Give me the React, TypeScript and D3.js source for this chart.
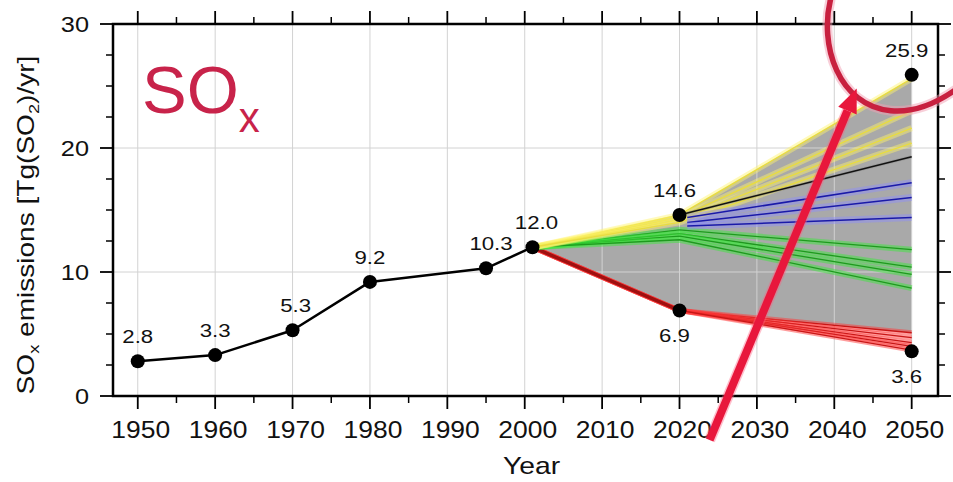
import React from "react";
import * as d3 from "d3";

// ---- data ----
const histYears = [1950, 1960, 1970, 1980, 1995, 2001];
const histValues = [2.8, 3.3, 5.3, 9.2, 10.3, 12.0];

const pointYears = [1950, 1960, 1970, 1980, 1995, 2001, 2020, 2050, 2020, 2050];
const pointValues = [2.8, 3.3, 5.3, 9.2, 10.3, 12.0, 14.6, 25.9, 6.9, 3.6];
const pointLabels = ["2.8", "3.3", "5.3", "9.2", "10.3", "12.0", "14.6", "25.9", "6.9", "3.6"];
const pointLabelSide = ["above", "above", "above", "above", "above", "above", "above", "above", "below", "below"];

const scenarioYears = [2001, 2020, 2050];
const envelopeUpper = [12.0, 14.6, 25.6];
const envelopeLower = [12.0, 6.9, 5.1];
const yellowScenarios = [
  [12.0, 14.6, 25.6],
  [12.0, 14.4, 23.0],
  [12.0, 14.2, 21.6],
  [12.0, 14.0, 20.4],
];
const blackYears = [2020, 2050];
const blackScenario = [14.6, 19.3];
const blueYears = [2021, 2050];
const blueScenarios = [
  [14.4, 17.2],
  [14.0, 16.0],
  [13.7, 14.4],
];
const greenScenarios = [
  [12.0, 13.4, 11.8],
  [12.0, 13.1, 10.4],
  [12.0, 12.9, 9.8],
  [12.0, 12.6, 8.7],
];
const redScenarios = [
  [12.0, 6.9, 5.1],
  [12.0, 6.9, 4.7],
  [12.0, 6.9, 4.3],
  [12.0, 6.9, 4.0],
  [12.0, 6.9, 3.7],
];

const xTickYears = [1950, 1960, 1970, 1980, 1990, 2000, 2010, 2020, 2030, 2040, 2050];
const xMinorYears = [1955, 1965, 1975, 1985, 1995, 2005, 2015, 2025, 2035, 2045];
const yTickValues = [0, 10, 20, 30];
const yMinorValues = [2.5, 5, 7.5, 12.5, 15, 17.5, 22.5, 25, 27.5];

// hand-drawn annotation (in data units)
const arrowStart = [2023.9, -3.55];
const arrowEnd = [2042.9, 24.8];
const circlePts = [
  [2039.6, 32.2],
  [2037.9, 28.3],
  [2040.6, 23.4],
  [2047.3, 23.0],
  [2050.7, 22.8],
  [2053.7, 23.8],
  [2056.0, 24.84],
];

const FONT = "'Liberation Sans', Arial, Helvetica, sans-serif";

export default function App() {
  const W = 953;
  const H = 482;
  const x = d3.scaleLinear().domain([1946.8, 2053.4]).range([113, 938]);
  const y = d3.scaleLinear().domain([0, 30]).range([396, 24]);
  const [fx0, fx1] = x.range();
  const [fy0, fy1] = [y(30), y(0)];

  const line = d3
    .line<number[]>()
    .x((d) => x(d[0]))
    .y((d) => y(d[1]));

  const pairs = (ys: number[], vs: number[]) => ys.map((yr, i) => [yr, vs[i]]);

  const envelope = pairs(scenarioYears, envelopeUpper).concat(pairs(scenarioYears, envelopeLower).reverse());
  const envPath = line(envelope) + "Z";

  const scenarioLine = (
    vals: number[],
    core: string,
    halo: string,
    coreW: number,
    haloW: number,
    haloOp: number,
    key: string,
    yrs = scenarioYears
  ) => (
    <g key={key}>
      <path d={line(pairs(yrs, vals)) || ""} fill="none" stroke={halo} strokeWidth={haloW} strokeOpacity={haloOp} strokeLinejoin="round" />
      <path d={line(pairs(yrs, vals)) || ""} fill="none" stroke={core} strokeWidth={coreW} strokeLinejoin="round" />
    </g>
  );

  const arrowAngle = Math.atan2(y(arrowEnd[1]) - y(arrowStart[1]), x(arrowEnd[0]) - x(arrowStart[0]));
  const tipX = x(arrowEnd[0]);
  const tipY = y(arrowEnd[1]);
  const headLen = 24;
  const headHalf = 10;
  const bx = tipX - headLen * Math.cos(arrowAngle);
  const by = tipY - headLen * Math.sin(arrowAngle);
  const px = -Math.sin(arrowAngle);
  const py = Math.cos(arrowAngle);
  const headPath = `M${tipX},${tipY}L${bx + px * headHalf},${by + py * headHalf}L${bx - px * headHalf},${by - py * headHalf}Z`;

  const cp = circlePts.map((p) => [x(p[0]), y(p[1])]);
  const circlePath = `M${cp[0][0]},${cp[0][1]} C${cp[1][0]},${cp[1][1]} ${cp[2][0]},${cp[2][1]} ${cp[3][0]},${cp[3][1]} C${cp[4][0]},${cp[4][1]} ${cp[5][0]},${cp[5][1]} ${cp[6][0]},${cp[6][1]}`;

  return (
    <svg width={W} height={H} style={{ position: "absolute", left: 0, top: 0, background: "#fff" }} fontFamily={FONT}>
      <rect width={W} height={H} fill="#fff" />

      {/* envelope fill */}
      <path d={envPath} fill="#a9a9a9" />

      {/* grid */}
      {xTickYears.map((yr) => (
        <line key={"gx" + yr} x1={x(yr)} x2={x(yr)} y1={fy0} y2={fy1} stroke="#d2d2d2" strokeWidth={1} />
      ))}
      {[10, 20].map((v) => (
        <line key={"gy" + v} x1={fx0} x2={fx1} y1={y(v)} y2={y(v)} stroke="#d2d2d2" strokeWidth={1} />
      ))}

      {/* scenarios */}
      {redScenarios.map((s, i) => scenarioLine(s, "#c81616", "#ff3a3a", 1.3, 5, 0.5, "r" + i))}
      <path d={line(pairs(scenarioYears.slice(0, 2), redScenarios[0].slice(0, 2))) || ""} fill="none" stroke="#a01010" strokeWidth={3.5} />
      {greenScenarios.map((s, i) => scenarioLine(s, "#1e9a1e", "#3ee83e", 1.3, 6, 0.5, "g" + i))}
      {yellowScenarios.map((s, i) => scenarioLine(s, "#e8dc40", "#fff36a", 1.4, 6, 0.45, "y" + i))}
      {blueScenarios.map((s, i) => scenarioLine(s, "#1a1aa8", "#8c8cff", 1.5, 7, 0.45, "b" + i, blueYears))}
      {scenarioLine(blackScenario, "#111", "#777", 1.5, 3, 0.3, "k", blackYears)}

      {/* history */}
      <path d={line(pairs(histYears, histValues)) || ""} fill="none" stroke="#000" strokeWidth={2.5} strokeLinejoin="round" />

      {/* dots & labels */}
      {pointYears.map((yr, i) => (
        <circle key={"p" + i} cx={x(yr)} cy={y(pointValues[i])} r={7} fill="#000" />
      ))}
      {pointYears.map((yr, i) => {
        const above = pointLabelSide[i] === "above";
        const dx = yr >= 1995 ? (yr === 1995 ? 5 : yr === 2001 ? 4 : -5) : yr === 1970 ? 3 : 0;
        const ty = y(pointValues[i]) + (above ? -18 : 32);
        return (
          <text key={"l" + i} transform={`translate(${x(yr) + dx},${ty}) scale(1.2,1)`} textAnchor="middle" fontSize={18.5} fill="#111">
            {pointLabels[i]}
          </text>
        );
      })}

      {/* frame */}
      <rect x={fx0} y={fy0} width={fx1 - fx0} height={fy1 - fy0} fill="none" stroke="#000" strokeWidth={2.5} />

      {/* x ticks */}
      {xTickYears.map((yr) => (
        <g key={"xt" + yr}>
          <line x1={x(yr)} x2={x(yr)} y1={fy1} y2={fy1 + 13} stroke="#000" strokeWidth={1.8} />
          <line x1={x(yr)} x2={x(yr)} y1={fy0} y2={fy0 - 13} stroke="#000" strokeWidth={1.8} />
          <text transform={`translate(${x(yr) + 3},${438}) scale(1.15,1)`} textAnchor="middle" fontSize={23} fill="#111">
            {yr}
          </text>
        </g>
      ))}
      {xMinorYears.map((yr) => (
        <g key={"xm" + yr}>
          <line x1={x(yr)} x2={x(yr)} y1={fy1} y2={fy1 + 7} stroke="#000" strokeWidth={1.5} />
          <line x1={x(yr)} x2={x(yr)} y1={fy0} y2={fy0 - 7} stroke="#000" strokeWidth={1.5} />
        </g>
      ))}

      {/* y ticks */}
      {yTickValues.map((v) => (
        <g key={"yt" + v}>
          <line x1={fx0} x2={fx0 - 13} y1={y(v)} y2={y(v)} stroke="#000" strokeWidth={1.8} />
          <line x1={fx1} x2={fx1 + 13} y1={y(v)} y2={y(v)} stroke="#000" strokeWidth={1.8} />
          <text transform={`translate(${89},${y(v) + 8}) scale(1.15,1)`} textAnchor="end" fontSize={22} fill="#111">
            {v}
          </text>
        </g>
      ))}
      {yMinorValues.map((v) => (
        <g key={"ym" + v}>
          <line x1={fx0} x2={fx0 - 7} y1={y(v)} y2={y(v)} stroke="#000" strokeWidth={1.5} />
          <line x1={fx1} x2={fx1 + 7} y1={y(v)} y2={y(v)} stroke="#000" strokeWidth={1.5} />
        </g>
      ))}

      {/* axis titles */}
      <text transform={`translate(${(fx0 + fx1) / 2 + 6},474) scale(1.18,1)`} textAnchor="middle" fontSize={24} fill="#111">
        Year
      </text>
      <text transform={`translate(34,${(fy0 + fy1) / 2 + 15}) rotate(-90) scale(1.22,1)`} textAnchor="middle" fontSize={23} fill="#111">
        SO<tspan fontSize={15} dy={5}>x</tspan>
        <tspan dy={-5}> emissions [Tg(SO</tspan>
        <tspan fontSize={15} dy={5}>2</tspan>
        <tspan dy={-5}>)/yr]</tspan>
      </text>

      {/* big title */}
      <text x={142} y={113} fontSize={67} fill="#c8234a">
        SO<tspan fontSize={42} dy={19}>x</tspan>
      </text>

      {/* annotations */}
      <path d={circlePath} fill="none" stroke="#f2a0b4" strokeWidth={10} strokeOpacity={0.5} strokeLinecap="round" />
      <path d={circlePath} fill="none" stroke="#c8203f" strokeWidth={5.5} strokeLinecap="round" />
      <line x1={x(arrowStart[0])} y1={y(arrowStart[1])} x2={bx} y2={by} stroke="#ff6080" strokeOpacity={0.4} strokeWidth={11} />
      <line x1={x(arrowStart[0])} y1={y(arrowStart[1])} x2={bx} y2={by} stroke="#e8173c" strokeWidth={8} />
      <path d={headPath} fill="#e8173c" />
    </svg>
  );
}
